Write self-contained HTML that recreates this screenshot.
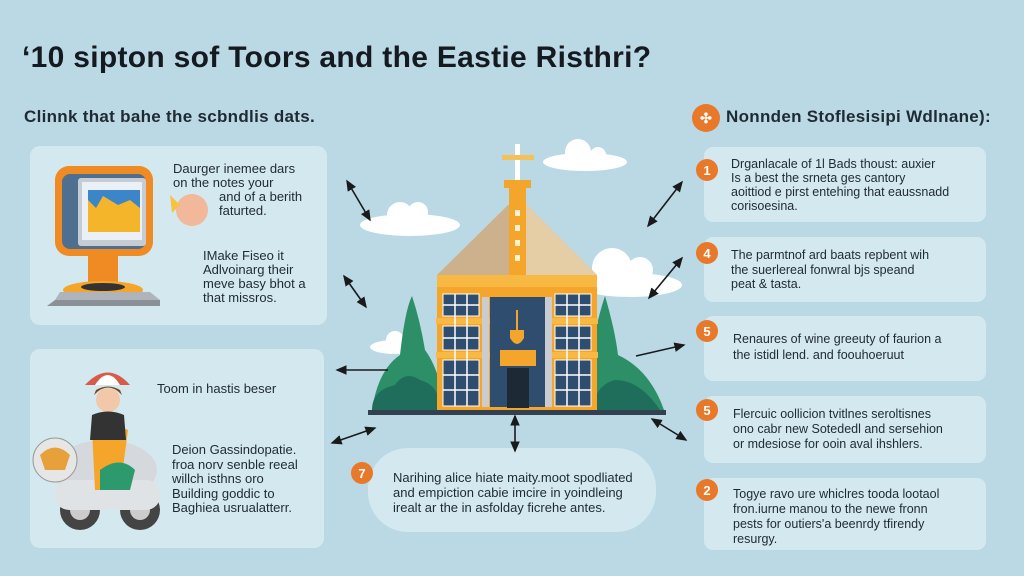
<!DOCTYPE html>
<html><head><meta charset="utf-8"><style>
html,body{margin:0;padding:0}
body{width:1024px;height:576px;overflow:hidden;background:#bad9e5;font-family:"Liberation Sans",sans-serif;}
svg{position:absolute;left:0;top:0}
.t{position:absolute;color:#1f2a33;white-space:nowrap}
</style></head><body>
<svg width="1024" height="576" viewBox="0 0 1024 576">
<defs><marker id="a" markerWidth="8" markerHeight="8" refX="6" refY="4" orient="auto-start-reverse"><path d="M0,1 L7,4 L0,7 z" fill="#1a1a1a"/></marker></defs>
<rect x="30" y="146" width="297" height="179" rx="10" fill="#d4e8ef"/>
<rect x="30" y="349" width="294" height="199" rx="10" fill="#d4e8ef"/>
<rect x="368" y="448" width="288" height="84" rx="40" fill="#d4e8ef"/>
<rect x="704" y="147" width="282" height="75" rx="9" fill="#d4e8ef"/>
<rect x="704" y="237" width="282" height="65" rx="9" fill="#d4e8ef"/>
<rect x="704" y="316" width="282" height="65" rx="9" fill="#d4e8ef"/>
<rect x="704" y="396" width="282" height="67" rx="9" fill="#d4e8ef"/>
<rect x="704" y="478" width="282" height="72" rx="9" fill="#d4e8ef"/>
<g fill="#e8782a"><circle cx="706" cy="118" r="14"/><circle cx="707" cy="170" r="11"/><circle cx="707" cy="253" r="11"/><circle cx="707" cy="331" r="11"/><circle cx="707" cy="410" r="11"/><circle cx="707" cy="490" r="11"/><circle cx="362" cy="473" r="11"/></g>
<g font-family="Liberation Sans" font-weight="bold" font-size="13" fill="#fff" text-anchor="middle"><text x="707" y="175">1</text><text x="707" y="258">4</text><text x="707" y="336">5</text><text x="707" y="415">5</text><text x="707" y="495">2</text><text x="362" y="478">7</text><text x="706" y="123" font-size="14">✣</text></g>
<g fill="#fff">
<ellipse cx="410" cy="225" rx="50" ry="11"/><circle cx="400" cy="215" r="13"/><circle cx="418" cy="212" r="10"/>
<ellipse cx="585" cy="162" rx="42" ry="9"/><circle cx="578" cy="152" r="13"/><circle cx="598" cy="155" r="8"/>
<ellipse cx="630" cy="285" rx="52" ry="12"/><circle cx="612" cy="268" r="20"/><circle cx="640" cy="270" r="13"/>
<ellipse cx="395" cy="347" rx="25" ry="7"/><circle cx="395" cy="340" r="9"/>
</g>
<g fill="#2d8f68"><path d="M372 410 Q378 370 400 355 Q405 310 412 296 Q420 320 425 350 Q440 370 445 410z"/><path d="M586 410 Q590 340 605 296 Q615 330 618 355 Q650 370 664 410z"/></g>
<g fill="#1f6e5c"><path d="M372 410 Q372 390 395 385 Q405 370 420 380 Q440 385 440 410z"/><path d="M592 410 Q595 385 615 380 Q640 380 660 410z"/></g>
<polygon points="508,205 527,205 597,275 437,275" fill="#cdb08c"/>
<polygon points="518,205 527,205 597,275 518,275" fill="#e5cda5"/>
<rect x="509" y="185" width="17" height="90" fill="#f3a62b"/>
<g fill="#fff2cf"><rect x="515" y="210" width="5" height="6"/><rect x="515" y="225" width="5" height="6"/><rect x="515" y="240" width="5" height="6"/><rect x="515" y="255" width="5" height="6"/></g>
<rect x="504" y="180" width="27" height="8" fill="#f3a62b"/>
<rect x="515" y="144" width="5" height="36" fill="#fff"/><rect x="502" y="155" width="32" height="5" fill="#f3c05a"/>
<rect x="437" y="275" width="160" height="135" fill="#f5a52a"/>
<rect x="437" y="275" width="160" height="12" fill="#f7b844"/>
<rect x="436" y="318" width="162" height="6" fill="#f7b844"/><rect x="436" y="352" width="162" height="6" fill="#f7b844"/>
<g fill="#2f4d6e" stroke="#fff" stroke-width="1">
<rect x="443" y="294" width="36" height="22"/><rect x="443" y="326" width="36" height="24"/><rect x="443" y="360" width="36" height="46"/>
<rect x="555" y="294" width="36" height="22"/><rect x="555" y="326" width="36" height="24"/><rect x="555" y="360" width="36" height="46"/>
</g>
<g stroke="#fff" stroke-width="1.5"><path d="M455 294V406M467 294V406M567 294V406M579 294V406M443 305H479M443 338H479M443 375H479M443 390H479M555 305H591M555 338H591M555 375H591M555 390H591"/></g>
<rect x="482" y="297" width="7" height="110" fill="#c9ccd0"/><rect x="545" y="297" width="7" height="110" fill="#c9ccd0"/>
<rect x="490" y="297" width="55" height="110" fill="#2f4d6e"/>
<path d="M510 330 h14 v8 q-7 12 -14 0z" fill="#f3a62b"/><rect x="516" y="310" width="2" height="20" fill="#f3a62b"/>
<rect x="500" y="350" width="36" height="16" fill="#f3a62b"/>
<rect x="507" y="368" width="22" height="40" fill="#1d2a36"/>
<rect x="368" y="410" width="298" height="5" fill="#334050"/>
<g stroke="#1a1a1a" stroke-width="1.6" fill="none">
<line x1="347" y1="181" x2="370" y2="220" marker-start="url(#a)" marker-end="url(#a)"/>
<line x1="344" y1="276" x2="366" y2="307" marker-start="url(#a)" marker-end="url(#a)"/>
<line x1="388" y1="370" x2="337" y2="370" marker-end="url(#a)"/>
<line x1="375" y1="428" x2="332" y2="443" marker-start="url(#a)" marker-end="url(#a)"/>
<line x1="515" y1="416" x2="515" y2="451" marker-start="url(#a)" marker-end="url(#a)"/>
<line x1="648" y1="226" x2="682" y2="182" marker-start="url(#a)" marker-end="url(#a)"/>
<line x1="649" y1="298" x2="682" y2="258" marker-start="url(#a)" marker-end="url(#a)"/>
<line x1="636" y1="356" x2="684" y2="345" marker-end="url(#a)"/>
<line x1="652" y1="419" x2="686" y2="440" marker-start="url(#a)" marker-end="url(#a)"/>
</g>
<rect x="88" y="252" width="30" height="35" fill="#f08a22"/>
<ellipse cx="103" cy="290" rx="40" ry="9" fill="#f5a52a"/><ellipse cx="103" cy="287" rx="22" ry="4" fill="#333"/>
<path d="M55 300 L160 300 L160 306 L47 306 z" fill="#8a9096"/><path d="M60 292 L150 292 L160 300 L55 300 z" fill="#aeb4ba"/>
<rect x="55" y="166" width="98" height="90" rx="14" fill="#f08a22"/>
<rect x="62" y="174" width="84" height="75" rx="8" fill="#4e6f8f"/>
<rect x="78" y="178" width="68" height="68" rx="3" fill="#c5ccd3"/>
<rect x="82" y="182" width="60" height="58" fill="#eaf0f5"/>
<path d="M88 196 L96 205 L103 194 L118 198 L130 192 L140 196 L140 232 L88 232 z" fill="#f5b52a"/>
<path d="M88 190 L140 190 L140 208 L130 200 L118 205 L103 196 L96 208 L88 200z" fill="#3a86c8"/>
<circle cx="192" cy="210" r="16" fill="#f2b89a"/><path d="M170 195 l10 10 -8 8z" fill="#f5c242"/>
<ellipse cx="105" cy="470" rx="52" ry="30" fill="#d5d9dd"/>
<circle cx="80" cy="510" r="20" fill="#444"/><circle cx="80" cy="510" r="10" fill="#ccc"/>
<circle cx="140" cy="510" r="20" fill="#444"/><circle cx="140" cy="510" r="10" fill="#ccc"/>
<rect x="55" y="480" width="105" height="30" rx="14" fill="#e0e3e6"/>
<path d="M92 430 Q110 420 128 430 L120 490 L95 490z" fill="#f5a52a"/>
<path d="M100 470 Q120 455 135 470 L130 490 L100 490z" fill="#2d9a6e"/>
<path d="M85 385 Q108 360 130 385z" fill="#d85a4a"/><path d="M95 385 Q108 365 120 385z" fill="#fff"/>
<circle cx="108" cy="400" r="12" fill="#f2c8a8"/><path d="M94 395 Q108 380 122 395 L120 390 Q108 383 96 390z" fill="#7a4a22"/>
<path d="M92 415 Q108 408 124 415 L126 440 L90 440z" fill="#333"/>
<circle cx="55" cy="460" r="22" fill="#e6e6e6" stroke="#999"/><path d="M40 455 Q55 440 70 455 L65 470 L45 470z" fill="#e7a13a"/>
</svg>
<div class="t" style="left:22px;top:41px;font-size:30px;letter-spacing:0.3px;font-weight:bold;color:#141a20">‘10 sipton sof Toors and the Eastie Risthri?</div>
<div class="t" style="left:24px;top:107px;font-size:17px;letter-spacing:0.3px;font-weight:bold">Clinnk that bahe the scbndlis dats.</div>
<div class="t" style="left:726px;top:107px;font-size:17px;letter-spacing:0.3px;font-weight:bold">Nonnden Stoflesisipi Wdlnane):</div>
<div class="t" style="left:173px;top:162px;font-size:13px;line-height:14px">Daurger inemee dars<br>on the notes your<br><span style="padding-left:46px">and of a berith</span><br><span style="padding-left:46px">faturted.</span></div>
<div class="t" style="left:203px;top:249px;font-size:13px;line-height:14px">IMake Fiseo it<br>Adlvoinarg their<br>meve basy bhot a<br>that missros.</div>
<div class="t" style="left:157px;top:381px;font-size:13px">Toom in hastis beser</div>
<div class="t" style="left:172px;top:443px;font-size:13px;line-height:14.5px">Deion Gassindopatie.<br>froa norv senble reeal<br>willch isthns oro<br>Building goddic to<br>Baghiea usrualatterr.</div>
<div class="t" style="left:393px;top:470px;font-size:13px;line-height:15px">Narihing alice hiate maity.moot spodliated<br>and empiction cabie imcire in yoindleing<br>irealt ar the in asfolday ficrehe antes.</div>
<div class="t" style="left:731px;top:157px;font-size:12.5px;line-height:14px">Drganlacale of 1l Bads thoust: auxier<br>Is a best the srneta ges cantory<br>aoittiod e pirst entehing that eaussnadd<br>corisoesina.</div>
<div class="t" style="left:731px;top:248px;font-size:12.5px;line-height:14.5px">The parmtnof ard baats repbent wih<br>the suerlereal fonwral bjs speand<br>peat &amp; tasta.</div>
<div class="t" style="left:733px;top:331px;font-size:12.5px;line-height:16px">Renaures of wine greeuty of faurion a<br>the istidl lend. and foouhoeruut</div>
<div class="t" style="left:733px;top:407px;font-size:12.5px;line-height:15px">Flercuic oollicion tvitlnes seroltisnes<br>ono cabr new Sotededl and sersehion<br>or mdesiose for ooin aval ihshlers.</div>
<div class="t" style="left:733px;top:487px;font-size:12.5px;line-height:15px">Togye ravo ure whiclres tooda lootaol<br>fron.iurne manou to the newe fronn<br>pests for outiers'a beenrdy tfirendy<br>resurgy.</div>
</body></html>
